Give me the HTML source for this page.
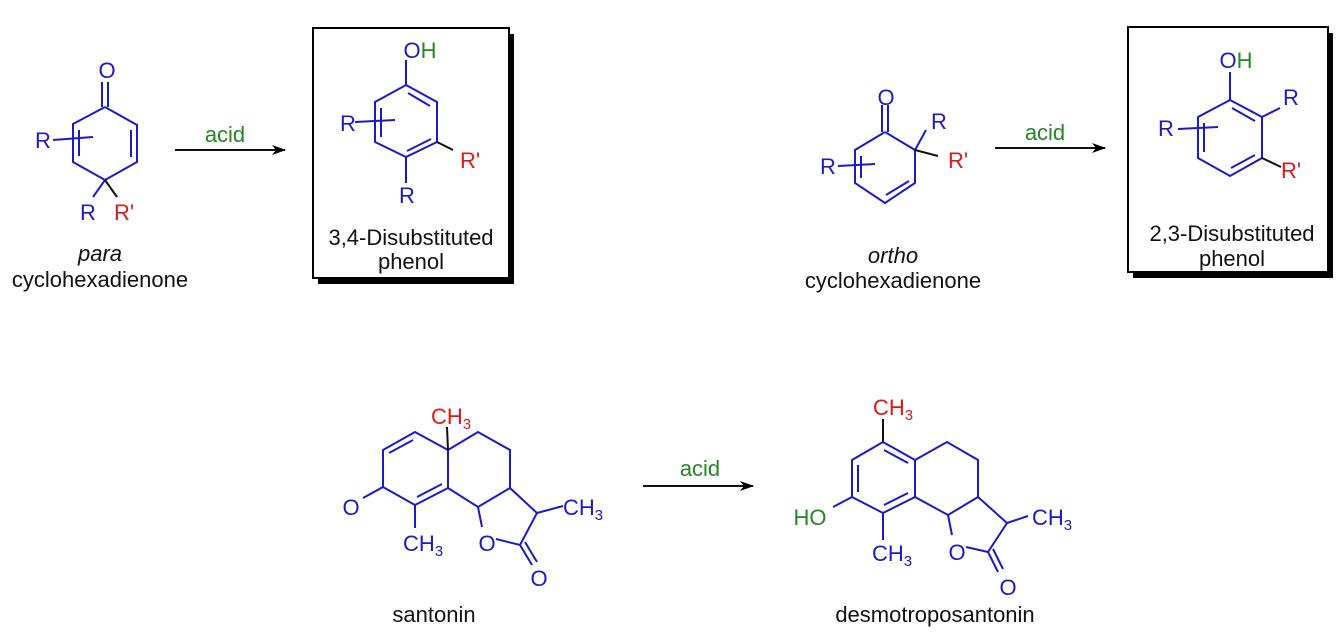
<!DOCTYPE html>
<html><head><meta charset="utf-8"><style>
html,body{margin:0;padding:0;background:#fff;}
svg{display:block;}
text{font-family:"Liberation Sans",sans-serif;font-size:22px;}
.b{fill:#1a1acc}.r{fill:#e01818}.g{fill:#228822}.k{fill:#111}
</style></head><body>
<svg width="1342" height="643" viewBox="0 0 1342 643" xmlns="http://www.w3.org/2000/svg">
<defs><marker id="ah" markerWidth="14" markerHeight="10" refX="13" refY="5" orient="auto" markerUnits="userSpaceOnUse"><path d="M0,0 L14,5 L0,10 L4,5 Z" fill="#000"/></marker></defs>
<g stroke="#1a1acc" stroke-width="2" fill="none">
<polyline points="105,107 137,125 137,162 105,180 73,162 73,124 105,107"/>
<line x1="102" y1="82" x2="102" y2="107"/><line x1="108" y1="82" x2="108" y2="107"/>
<line x1="131" y1="130" x2="131" y2="157"/><line x1="79" y1="130" x2="79" y2="156"/>
<line x1="53" y1="140" x2="93" y2="137"/><line x1="105" y1="180" x2="93" y2="197"/>
<polyline points="885,132 915,150 915,183 885,203 855,183 855,150 885,132"/>
<line x1="882" y1="105" x2="882" y2="132"/><line x1="888" y1="105" x2="888" y2="132"/>
<line x1="909" y1="181" x2="886" y2="195"/><line x1="861" y1="156" x2="861" y2="178"/>
<line x1="838" y1="166" x2="875" y2="164"/><line x1="915" y1="150" x2="926" y2="130"/>
<polyline points="448,450 415,432 383,450 383,487 415,505 448,488 448,450 478,432 510,450 510,488 478,507 448,488"/>
<line x1="413" y1="440" x2="389" y2="453"/><line x1="417" y1="497" x2="442" y2="484"/>
<line x1="383" y1="487" x2="363" y2="498"/><line x1="415" y1="505" x2="415" y2="528"/>
<polyline points="478,507 482,527"/><polyline points="496,539 520,545 537,513 510,488"/>
<line x1="537" y1="513" x2="563" y2="506"/><line x1="520" y1="545" x2="532" y2="565"/><line x1="525" y1="542" x2="537" y2="562"/>
<polyline points="883,442 852,460 852,497 883,513 915,497 915,460 883,442"/>
<polyline points="915,460 947,442 978,460 978,497 948,515 915,497"/>
<line x1="884" y1="450" x2="908" y2="463"/><line x1="858" y1="465" x2="858" y2="492"/><line x1="884" y1="505" x2="908" y2="493"/>
<line x1="852" y1="497" x2="833" y2="507"/><line x1="883" y1="513" x2="883" y2="540"/>
<polyline points="948,515 952,535"/><polyline points="966,547 988,552 1007,523 978,497"/>
<line x1="1007" y1="523" x2="1028" y2="516"/><line x1="988" y1="552" x2="998" y2="572"/><line x1="993" y1="549" x2="1003" y2="569"/>
</g>
<g stroke="#111" stroke-width="2">
<line x1="105" y1="180" x2="117" y2="197"/>
<line x1="915" y1="150" x2="938" y2="156"/>
<line x1="447" y1="427" x2="448" y2="450"/>
<line x1="883" y1="419" x2="883" y2="442"/>
<line x1="175" y1="150" x2="285" y2="150" marker-end="url(#ah)"/>
<line x1="995" y1="148" x2="1105" y2="148" marker-end="url(#ah)"/>
<line x1="643" y1="486" x2="753" y2="486" marker-end="url(#ah)"/>
</g>
<rect x="318" y="34" width="196" height="250" fill="#000"/>
<rect x="313" y="28" width="196" height="250" fill="#fff" stroke="#000" stroke-width="2"/>
<rect x="1133" y="33" width="200" height="245" fill="#000"/>
<rect x="1128" y="27" width="200" height="245" fill="#fff" stroke="#000" stroke-width="2"/>
<g stroke="#1a1acc" stroke-width="2" fill="none">
<polyline points="406,85 437,102 437,142 406,157 375,142 375,102 406,85"/>
<line x1="406" y1="85" x2="406" y2="60"/>
<line x1="408" y1="93" x2="430" y2="106"/><line x1="431" y1="139" x2="407" y2="151"/>
<line x1="381" y1="108" x2="381" y2="137"/>
<line x1="355" y1="122" x2="395" y2="120"/><line x1="406" y1="157" x2="406" y2="183"/>
<polyline points="1230,100 1262,117 1262,158 1230,176 1198,158 1198,117 1230,100"/>
<line x1="1230" y1="100" x2="1230" y2="72"/>
<line x1="1232" y1="108" x2="1255" y2="121"/><line x1="1255" y1="155" x2="1231" y2="168"/>
<line x1="1204" y1="123" x2="1204" y2="152"/>
<line x1="1178" y1="129" x2="1218" y2="127"/><line x1="1262" y1="117" x2="1280" y2="108"/>
</g>
<g stroke="#111" stroke-width="2">
<line x1="437" y1="142" x2="453" y2="150"/>
<line x1="1262" y1="158" x2="1281" y2="167"/>
</g>
<g text-anchor="middle">
<text x="107" y="78" class="b">O</text>
<text x="43" y="148" class="b">R</text>
<text x="88" y="220" class="b">R</text>
<text x="124" y="220" class="r">R'</text>
<text x="100" y="261" class="k" font-style="italic">para</text>
<text x="100" y="287" class="k">cyclohexadienone</text>
<text x="225" y="142" class="g">acid</text>
<text x="420" y="58"><tspan class="b">O</tspan><tspan class="g">H</tspan></text>
<text x="348" y="131" class="b">R</text>
<text x="470" y="168" class="r">R'</text>
<text x="407" y="203" class="b">R</text>
<text x="411" y="245" class="k">3,4-Disubstituted</text>
<text x="411" y="269" class="k">phenol</text>
<text x="886" y="105" class="b">O</text>
<text x="939" y="129" class="b">R</text>
<text x="958" y="168" class="r">R'</text>
<text x="828" y="174" class="b">R</text>
<text x="893" y="263" class="k" font-style="italic">ortho</text>
<text x="893" y="288" class="k">cyclohexadienone</text>
<text x="1045" y="140" class="g">acid</text>
<text x="1236" y="68"><tspan class="b">O</tspan><tspan class="g">H</tspan></text>
<text x="1291" y="105" class="b">R</text>
<text x="1291" y="178" class="r">R'</text>
<text x="1166" y="136" class="b">R</text>
<text x="1232" y="241" class="k">2,3-Disubstituted</text>
<text x="1232" y="266" class="k">phenol</text>
<text x="700" y="476" class="g">acid</text>
<text x="434" y="622" class="k">santonin</text>
<text x="935" y="622" class="k">desmotroposantonin</text>
<text x="351" y="515" class="b">O</text>
<text x="487" y="551" class="b">O</text>
<text x="539" y="586" class="b">O</text>
<text x="957" y="560" class="b">O</text>
<text x="1008" y="595" class="b">O</text>
<text x="810" y="525" class="g">HO</text>
</g>
<g>
<text x="431" y="424" class="r">CH<tspan font-size="15" dy="5">3</tspan></text>
<text x="403" y="551" class="b">CH<tspan font-size="15" dy="5">3</tspan></text>
<text x="563" y="515" class="b">CH<tspan font-size="15" dy="5">3</tspan></text>
<text x="873" y="415" class="r">CH<tspan font-size="15" dy="5">3</tspan></text>
<text x="872" y="561" class="b">CH<tspan font-size="15" dy="5">3</tspan></text>
<text x="1032" y="525" class="b">CH<tspan font-size="15" dy="5">3</tspan></text>
</g>
</svg>
</body></html>
